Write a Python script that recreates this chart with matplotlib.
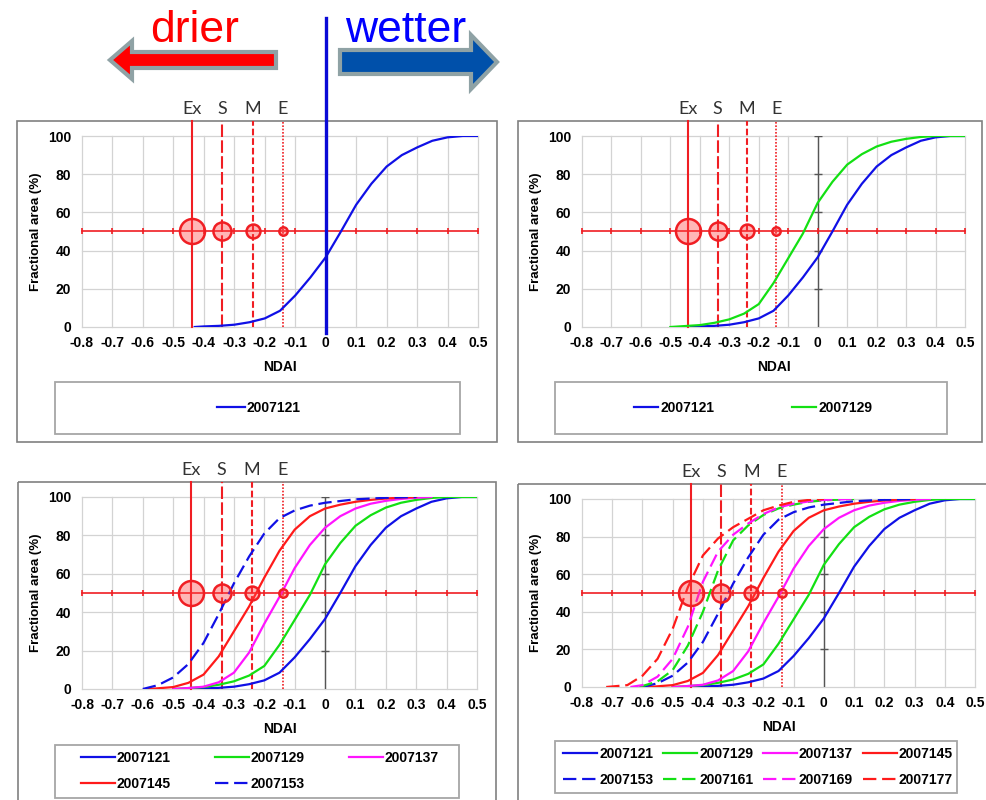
import matplotlib
matplotlib.use("Agg")
import matplotlib.pyplot as plt
from matplotlib.patches import Rectangle, FancyArrow

# ---- data ----
ndai_ticks = [-0.8, -0.7, -0.6, -0.5, -0.4, -0.3, -0.2, -0.1, 0, 0.1, 0.2, 0.3, 0.4, 0.5]
ndai_labels = ['-0.8', '-0.7', '-0.6', '-0.5', '-0.4', '-0.3', '-0.2', '-0.1',
               '0', '0.1', '0.2', '0.3', '0.4', '0.5']
area_ticks = [0, 20, 40, 60, 80, 100]

thresholds = [-0.44, -0.34, -0.24, -0.14]
threshold_names = ['Ex', 'S', 'M', 'E']

x_121 = [-0.43, -0.4, -0.35, -0.3, -0.25, -0.2, -0.15, -0.1, -0.05, 0, 0.05, 0.1, 0.15, 0.2, 0.25, 0.3, 0.35, 0.4, 0.45, 0.5]
y_121 = [0, 0.3, 0.6, 1.2, 2.5, 4.5, 8.5, 16.5, 26, 36.5, 50, 64, 75, 84, 90, 94, 97.5, 99.3, 100, 100]

x_129 = [-0.5, -0.45, -0.4, -0.35, -0.3, -0.25, -0.2, -0.15, -0.1, -0.05, 0, 0.05, 0.1, 0.15, 0.2, 0.25, 0.3, 0.35, 0.4, 0.45, 0.5]
y_129 = [0, 0.5, 1, 2.2, 4, 7, 12, 23, 36, 49, 65, 76, 85, 90.5, 94.5, 97, 98.5, 99.5, 100, 100, 100]

x_137 = [-0.5, -0.45, -0.4, -0.35, -0.3, -0.25, -0.2, -0.15, -0.1, -0.05, 0, 0.05, 0.1, 0.15, 0.2, 0.25, 0.3, 0.35]
y_137 = [0, 0.5, 1.2, 3.5, 8.5, 19, 34, 48, 63, 75, 84, 90, 94, 96.5, 98, 99, 99.6, 100]

x_145 = [-0.58, -0.5, -0.45, -0.4, -0.35, -0.3, -0.25, -0.2, -0.15, -0.1, -0.05, 0, 0.05, 0.1, 0.15, 0.2, 0.25, 0.3]
y_145 = [0, 1, 3.2, 7.5, 17, 30, 43, 58, 72, 83, 90, 94, 96, 97.5, 98.5, 99.2, 99.7, 100]

x_153 = [-0.6, -0.55, -0.5, -0.45, -0.4, -0.35, -0.3, -0.25, -0.2, -0.15, -0.1, -0.05, 0, 0.1, 0.2, 0.3]
y_153 = [0, 2, 6, 13, 24, 39, 55, 69, 81, 89, 93, 95.5, 97, 98.8, 99.6, 100]

x_161 = [-0.61, -0.55, -0.5, -0.45, -0.4, -0.35, -0.3, -0.25, -0.2, -0.15, -0.1, -0.05, 0, 0.1]
y_161 = [0, 3, 9, 22, 40, 62, 78, 86, 91.5, 95, 97, 98.5, 99.3, 100]

x_169 = [-0.64, -0.6, -0.55, -0.5, -0.45, -0.4, -0.35, -0.3, -0.25, -0.2, -0.15, -0.1, -0.05, 0, 0.1]
y_169 = [0, 1, 5.5, 15, 32, 56, 72, 81, 87, 92, 95.5, 97.5, 98.7, 99.5, 100]

x_177 = [-0.72, -0.65, -0.6, -0.55, -0.5, -0.45, -0.4, -0.35, -0.3, -0.25, -0.2, -0.15, -0.1, -0.05, 0]
y_177 = [0, 1, 6, 15, 31, 53, 70, 79, 85, 89.5, 94, 96.5, 98.5, 99.5, 100]

series_names = ['2007121', '2007129', '2007137', '2007145',
                '2007153', '2007161', '2007169', '2007177']
series_x = [x_121, x_129, x_137, x_145, x_153, x_161, x_169, x_177]
series_y = [y_121, y_129, y_137, y_145, y_153, y_161, y_169, y_177]

# ---- styling ----
BLUE, GREEN, MAG, RED = '#1010e6', '#13e013', '#ff14ff', '#ff1a1a'
series_colors = [BLUE, GREEN, MAG, RED, BLUE, GREEN, MAG, RED]
series_dashed = [False] * 4 + [True] * 4
thr_dashes = [None, (6, 1.6), (3.2, 1.4), (1, 1)]
thr_ms = [18, 13, 10, 6]
TRED = '#f01e23'

W, H = 986, 800
fig = plt.figure(figsize=(W / 100, H / 100), dpi=100)

def px_rect(l, t, r, b):
    return [l / W, 1 - b / H, (r - l) / W, (b - t) / H]

# background layer in pixel coordinates (frames, arrows, words)
bg = fig.add_axes([0, 0, 1, 1], zorder=0)
bg.set_xlim(0, W)
bg.set_ylim(H, 0)
bg.axis('off')

for (l, t, r, b) in [(17, 121, 497, 442), (518, 121, 982, 442),
                     (18, 482, 496, 812), (518, 484, 995, 812)]:
    bg.add_patch(Rectangle((l, t), r - l, b - t, fill=False, ec='#808080', lw=1.2))
for (l, t, r, b) in [(55, 382, 460, 434), (555, 382, 947, 434),
                     (55, 745, 459, 798), (555, 741, 957, 793)]:
    bg.add_patch(Rectangle((l, t), r - l, b - t, fill=False, ec='#a6a6a6', lw=1.3))

bg.add_patch(FancyArrow(276, 60, -166, 0, width=16, head_width=38, head_length=22,
                        length_includes_head=True, fc='#ff0000', ec='#8fa2a5', lw=3))
bg.add_patch(FancyArrow(340, 62, 157, 0, width=24, head_width=54, head_length=26,
                        length_includes_head=True, fc='#0050aa', ec='#8fa2a5', lw=3))
bg.text(195, 30, 'drier', color='#ff0000', fontsize=32, family='Liberation Sans',
        ha='center', va='center')
bg.text(406, 30, 'wetter', color='#0000ff', fontsize=32, family='Liberation Sans',
        ha='center', va='center')

tick_font = dict(family='Liberation Sans', weight='bold', size=10)

panels = [
    dict(rect=px_rect(82, 136, 478, 327), n=1, ncol=1, legc=(259, 408), hl=1.95, cs=2.0),
    dict(rect=px_rect(582, 136, 965, 327), n=2, ncol=2, legc=(753, 408), hl=1.75, cs=5.6),
    dict(rect=px_rect(82, 497, 477, 689), n=5, ncol=3, legc=(260, 771), hl=2.4, cs=3.2),
    dict(rect=px_rect(582, 499, 975, 687), n=8, ncol=4, legc=(758, 767), hl=2.45, cs=0.7),
]

for k, p in enumerate(panels):
    ax = fig.add_axes(p['rect'], zorder=2)
    ax.set_facecolor('none')
    ax.set_xlim(-0.8, 0.5)
    ax.set_ylim(0, 100)
    for s in ax.spines.values():
        s.set_visible(False)
    ax.set_xticks(ndai_ticks)
    ax.set_xticklabels(ndai_labels, fontdict=tick_font)
    ax.set_yticks(area_ticks)
    ax.set_yticklabels([str(v) for v in area_ticks], fontdict=tick_font)
    ax.tick_params(length=0)
    ax.tick_params(axis='x', pad=6.5)
    ax.tick_params(axis='y', pad=8)
    ax.grid(True, color='#d3d3d3', lw=0.9)
    ax.set_axisbelow(True)
    for g in ax.get_xgridlines() + ax.get_ygridlines():
        g.set_clip_on(False)
    ax.set_xlabel('NDAI', fontdict=tick_font, labelpad=7)
    ax.set_ylabel('Fractional area (%)', family='Liberation Sans', weight='bold',
                  size=9.5, labelpad=4)

    # vertical axis at NDAI = 0
    if k == 0:
        ax.plot([0, 0], [-0.03, 1.62], color='#0a0ad6', lw=2.4,
                transform=ax.get_xaxis_transform(), clip_on=False, zorder=4)
    else:
        ax.axvline(0, color='#555555', lw=1, zorder=1.5)
        ax.plot([0] * 5, area_ticks[1:], ls='none', marker='_', ms=6, mew=1,
                color='#555555', zorder=1.5)

    # drought-class reference lines
    for t, name, d in zip(thresholds, threshold_names, thr_dashes):
        ln, = ax.plot([t, t], [0, 1.078], color=TRED, lw=1.5 if d != (1, 1) else 1.2,
                      transform=ax.get_xaxis_transform(), clip_on=False, zorder=2)
        if d is not None:
            ln.set_dashes(d)
        ax.text(t, 1.143, name, transform=ax.get_xaxis_transform(), ha='center',
                va='center', family='Lato', size=13, color='#333333')
    ax.plot(ndai_ticks, [50] * len(ndai_ticks), color=TRED, lw=1.2, marker='|',
            ms=5, mew=1.2, zorder=2, clip_on=False)

    # curves
    for i in range(p['n']):
        ln, = ax.plot(series_x[i], series_y[i], color=series_colors[i], lw=1.6,
                      label=series_names[i], zorder=3)
        if series_dashed[i]:
            ln.set_dashes((6, 2.6))

    for t, ms in zip(thresholds, thr_ms):
        ax.plot([t], [50], marker='o', ms=ms, mfc=(1, 0.25, 0.25, 0.38), mec=TRED,
                mew=1.8, ls='none', zorder=5)

    # legend filled row by row, as in the reference
    h, lab = ax.get_legend_handles_labels()
    ncol = p['ncol']
    order = [i for c in range(ncol) for i in range(c, len(h), ncol)]
    fig.legend([h[i] for i in order], [lab[i] for i in order], loc='center',
               bbox_to_anchor=(p['legc'][0] / W, 1 - p['legc'][1] / H),
               ncol=ncol, frameon=False, prop=tick_font, handlelength=p['hl'],
               handletextpad=0.15, columnspacing=p['cs'], labelspacing=0.9,
               borderpad=0)

fig.savefig('out.png', dpi=100)
